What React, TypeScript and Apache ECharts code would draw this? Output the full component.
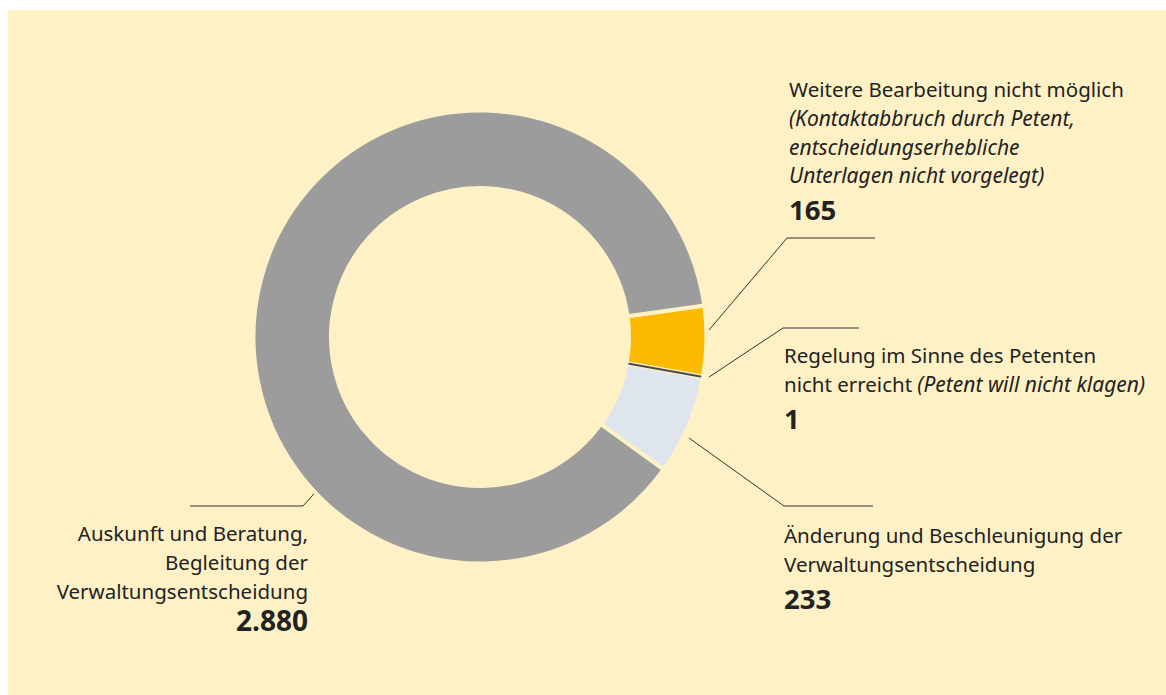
import React, { useEffect, useRef } from "react";
import * as echarts from "echarts";

// ---- data ----
const categories = [
  "Weitere Bearbeitung nicht möglich",
  "Regelung im Sinne des Petenten nicht erreicht",
  "Änderung und Beschleunigung der Verwaltungsentscheidung",
  "Auskunft und Beratung, Begleitung der Verwaltungsentscheidung",
];
const values = [165, 1, 233, 2880];
const labelLines = [
  [
    "{n|Weitere Bearbeitung nicht möglich}",
    "{i|(Kontaktabbruch durch Petent,}",
    "{i|entscheidungserhebliche}",
    "{i|Unterlagen nicht vorgelegt)}",
  ],
  ["{n|Regelung im Sinne des Petenten}", "{n|nicht erreicht }{i|(Petent will nicht klagen)}"],
  ["{n|Änderung und Beschleunigung der}", "{n|Verwaltungsentscheidung}"],
  ["{n|Auskunft und Beratung,}", "{n|Begleitung der}", "{n|Verwaltungsentscheidung}"],
];
const numberStyles = ["b", "b", "b", "c"];
const colors = ["#fbba00", "#4a4a4a", "#dfe5ec", "#9c9c9c"];

// ---- layout (chart-pixel coordinates) ----
const BG = "#fef1c5";
const FONT = "'Noto Sans', sans-serif";
const CENTER = [472, 327];
const labelPos = [
  { x: 781, y: 65, align: "left" },
  { x: 776, y: 331, align: "left" },
  { x: 776, y: 511, align: "left" },
  { x: 300, y: 509, align: "right" },
];
const leaders = [
  [[701, 320], [779, 228], [867, 228]],
  [[701, 367], [775, 318], [851, 318]],
  [[681, 428], [776, 496], [865, 496]],
  [[338, 448], [295, 496], [182, 496]],
];

const fmt = (v: number) => String(v).replace(/\B(?=(\d{3})+(?!\d))/g, ".");

export default function App() {
  const ref = useRef<HTMLDivElement>(null);
  useEffect(() => {
    document.body.style.overflow = "hidden";
    const chart = echarts.init(ref.current!, null, { renderer: "svg" });
    const textColor = "#222";
    const rich = {
      n: { fontSize: 20.5, lineHeight: 28.7, fontFamily: FONT, color: textColor },
      i: { fontSize: 21, lineHeight: 28.7, fontFamily: FONT, color: textColor, fontStyle: "italic" },
      b: { fontSize: 27.5, lineHeight: 40, fontFamily: FONT, color: textColor, fontWeight: "bold" },
      c: { fontSize: 28, lineHeight: 30, fontFamily: FONT, color: textColor, fontWeight: "bold" },
    };
    chart.setOption({
      animation: false,
      backgroundColor: BG,
      series: [
        {
          type: "pie",
          silent: true,
          center: CENTER,
          radius: [149, 226.5],
          startAngle: 8,
          clockwise: true,
          avoidLabelOverlap: false,
          emphasis: { disabled: true },
          itemStyle: { borderColor: BG, borderWidth: 4 },
          data: categories.map((name, i) => ({
            name,
            value: values[i],
            itemStyle: { color: colors[i] },
          })),
          label: {
            show: true,
            position: "outside",
            formatter: (p: any) =>
              labelLines[p.dataIndex].join("\n") +
              "\n{" + numberStyles[p.dataIndex] + "|" + fmt(values[p.dataIndex]) + "}",
            rich,
          },
          labelLine: {
            show: true,
            lineStyle: { color: "#333", width: 1 },
          },
          labelLayout: (p: any) => {
            const i = p.dataIndex;
            return {
              x: labelPos[i].x,
              y: labelPos[i].y,
              align: labelPos[i].align,
              verticalAlign: "top",
              labelLinePoints: leaders[i],
            };
          },
        },
        {
          type: "pie",
          silent: true,
          center: CENTER,
          radius: [151.5, 224],
          startAngle: 8,
          clockwise: true,
          emphasis: { disabled: true },
          label: { show: false },
          labelLine: { show: false },
          data: categories.map((name, i) => ({
            name,
            value: values[i],
            itemStyle:
              i === 1
                ? { color: colors[1], borderColor: colors[1], borderWidth: 1.5 }
                : { color: "rgba(0,0,0,0)", borderWidth: 0 },
          })),
        },
      ],
    });
    return () => chart.dispose();
  }, []);
  return (
    <div
      ref={ref}
      style={{ position: "absolute", left: 8, top: 10, width: 1158, height: 685 }}
    />
  );
}
